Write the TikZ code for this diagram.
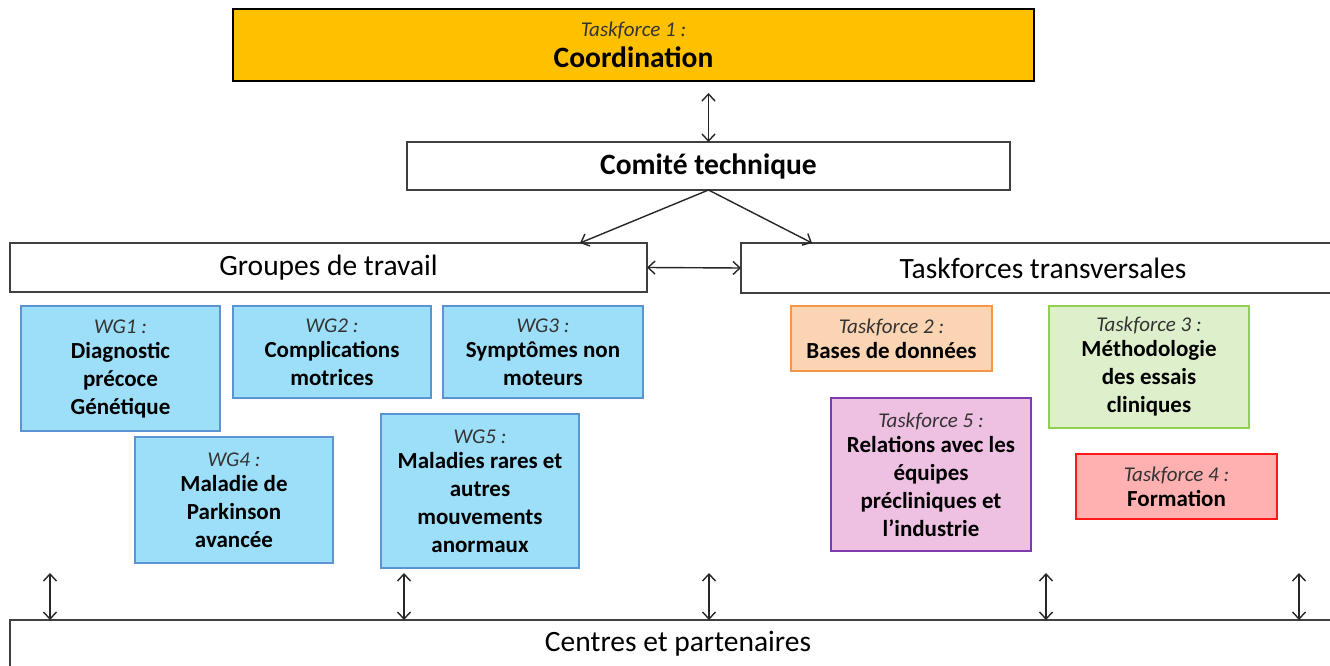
\documentclass[tikz,border=0pt]{standalone}
\usepackage{fontspec}
\setmainfont{Carlito}
\usepackage{xcolor}
\usepackage{tikz}
\usetikzlibrary{arrows, arrows.meta}
\definecolor{gold}{HTML}{FFC000}
\definecolor{wgfill}{HTML}{9DDEF8}
\definecolor{wgline}{HTML}{5B93D3}
\definecolor{orfill}{HTML}{FBD4B4}
\definecolor{orline}{HTML}{F79646}
\definecolor{grfill}{HTML}{DDEFCB}
\definecolor{grline}{HTML}{92D050}
\definecolor{pkfill}{HTML}{EEC0E2}
\definecolor{pkline}{HTML}{7E3BB0}
\definecolor{rdfill}{HTML}{FFB0B0}
\definecolor{rdline}{HTML}{FF1A1A}
\newcommand{\lab}[1]{{\fontsize{21}{25}\selectfont\mdseries\itshape\color{black!80}#1}}
\tikzstyle{bar} = [rectangle, draw=black!75, line width=1.5pt, fill=white, inner sep=0pt, outer sep=0pt, align=center, font=\fontsize{29.5}{35}\selectfont]
\tikzstyle{group} = [rectangle, line width=2pt, inner sep=0pt, outer sep=0pt, align=center, font=\fontsize{23}{28}\selectfont\bfseries]
\tikzstyle{wg} = [group, draw=wgline, fill=wgfill]
\tikzstyle{arrow} = [line width=1.4pt, black!85, {Straight Barb[length=7pt,width=13pt]}-{Straight Barb[length=7pt,width=13pt]}]
\tikzstyle{arrowone} = [line width=1.4pt, black!85, -{Straight Barb[length=7pt,width=13pt]}]

\begin{document}
\begin{tikzpicture}[x=1pt, y=-1pt]
	\useasboundingbox (0,0) rectangle (1330,666);
	
	\node (coord) [bar, fill=gold, draw=black, minimum width=801pt, minimum height=72pt] at (633.5,45) {\lab{Taskforce 1 :}\\[-4pt]\textbf{Coordination}};
	\node (comite) [bar, minimum width=603pt, minimum height=48pt] at (708.5,166) {\textbf{Comité technique}};
	\node (groupes) [bar, minimum width=637pt, minimum height=49pt] at (328.5,267.5) {Groupes de travail};
	\node (tft) [bar, minimum width=604pt, minimum height=50pt] at (1043,268) {Taskforces transversales};
	\node (centres) [bar, minimum width=1336pt, minimum height=48pt] at (678,644) {Centres et partenaires};
	
	\draw [arrow, shorten <=12pt] (coord.south -| comite.north) -- (comite.north);
	\draw [arrowone] (comite.south) -- ([xshift=-67pt]groupes.north east);
	\draw [arrowone] (comite.south) -- ([xshift=71pt]tft.north west);
	\draw [arrow] (groupes.east) -- (tft.west);
	
	% groupes de travail
	\node (wg1) [wg, minimum width=199pt, minimum height=125pt] at (120.5,368.5) {\lab{WG1 :}\\[-3pt]Diagnostic\\précoce\\Génétique};
	\node (wg2) [wg, minimum width=198pt, minimum height=92pt] at (332,352) {\lab{WG2 :}\\[-3pt]Complications\\motrices};
	\node (wg3) [wg, minimum width=200pt, minimum height=92pt] at (543,352) {\lab{WG3 :}\\[-3pt]Symptômes non\\moteurs};
	\node (wg4) [wg, minimum width=198pt, minimum height=126pt] at (234,500) {\lab{WG4 :}\\[-3pt]Maladie de\\Parkinson\\avancée};
	\node (wg5) [wg, minimum width=198pt, minimum height=154pt] at (480,491) {\lab{WG5 :}\\[-3pt]Maladies rares et\\autres\\mouvements\\anormaux};
	
	% taskforces
	\node (tf2) [group, draw=orline, fill=orfill, minimum width=201pt, minimum height=65pt] at (891.5,338.5) {\lab{Taskforce 2 :}\\[-3pt]Bases de données};
	\node (tf3) [group, draw=grline, fill=grfill, minimum width=200pt, minimum height=122pt] at (1149,367) {\lab{Taskforce 3 :}\\[-3pt]Méthodologie\\des essais\\cliniques};
	\node (tf5) [group, draw=pkline, fill=pkfill, minimum width=200pt, minimum height=153pt] at (931,474.5) {\lab{Taskforce 5 :}\\[-3pt]Relations avec les\\équipes\\précliniques et\\l’industrie};
	\node (tf4) [group, draw=rdline, fill=rdfill, minimum width=201pt, minimum height=65pt] at (1176.5,486.5) {\lab{Taskforce 4 :}\\[-3pt]Formation};
	
	\foreach \x [count=\i] in {50,404,709,1046,1299} {
		\coordinate (up\i) at (\x,573);
		\draw [arrow] (up\i) -- (up\i |- centres.north);
	}
	
\end{tikzpicture}
\end{document}
